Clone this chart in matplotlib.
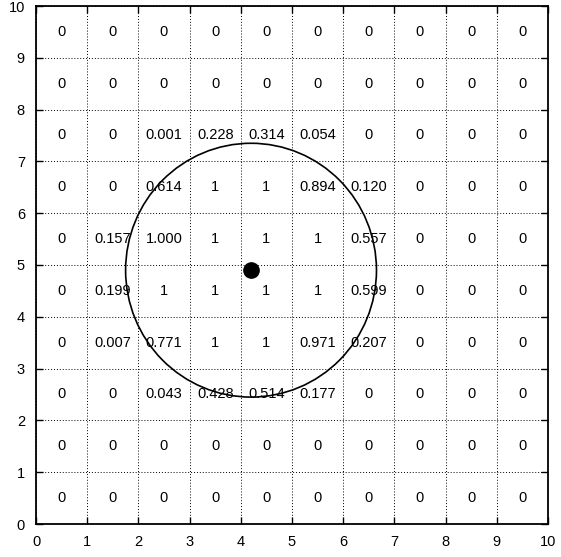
import matplotlib
matplotlib.use('Agg')
import matplotlib.pyplot as plt
import matplotlib.patches as mp

plt.rcParams['font.family'] = ['Liberation Sans', 'DejaVu Sans']

# cell values, top row (y = 9..10) first
rows = [
    ['0', '0', '0', '0', '0', '0', '0', '0', '0', '0'],
    ['0', '0', '0', '0', '0', '0', '0', '0', '0', '0'],
    ['0', '0', '0.001', '0.228', '0.314', '0.054', '0', '0', '0', '0'],
    ['0', '0', '0.614', '1', '1', '0.894', '0.120', '0', '0', '0'],
    ['0', '0.157', '1.000', '1', '1', '1', '0.557', '0', '0', '0'],
    ['0', '0.199', '1', '1', '1', '1', '0.599', '0', '0', '0'],
    ['0', '0.007', '0.771', '1', '1', '0.971', '0.207', '0', '0', '0'],
    ['0', '0', '0.043', '0.428', '0.514', '0.177', '0', '0', '0', '0'],
    ['0', '0', '0', '0', '0', '0', '0', '0', '0', '0'],
    ['0', '0', '0', '0', '0', '0', '0', '0', '0', '0'],
]
center = (4.2, 4.9)
radius = 2.45
ticks = list(range(11))


def main():
    fig = plt.figure(figsize=(5.61, 5.57), dpi=100)
    ax = fig.add_axes([36 / 561, 33 / 557, 512 / 561, 518 / 557])
    ax.set_xlim(0, 10)
    ax.set_ylim(0, 10)
    ax.set_xticks(ticks)
    ax.set_yticks(ticks)
    ax.tick_params(direction='in', length=5, width=1, labelsize=10.5,
                   top=True, right=True, pad=8)
    for s in ax.spines.values():
        s.set_linewidth(1.3)
    ax.grid(True, linestyle=(0, (1, 2)), color='black', linewidth=0.7)
    n = len(rows)
    for i, row in enumerate(rows):
        y = n - 1 - i + 0.5
        for j, v in enumerate(row):
            ax.text(j + 0.5, y, v, ha='center', va='center', fontsize=10.5)
    ax.add_patch(mp.Circle(center, radius, fill=False, color='black',
                           linewidth=1.2))
    ax.plot([center[0]], [center[1]], 'o', color='black', markersize=11)
    plt.savefig('out.png', dpi=100)


if __name__ == '__main__':
    main()
